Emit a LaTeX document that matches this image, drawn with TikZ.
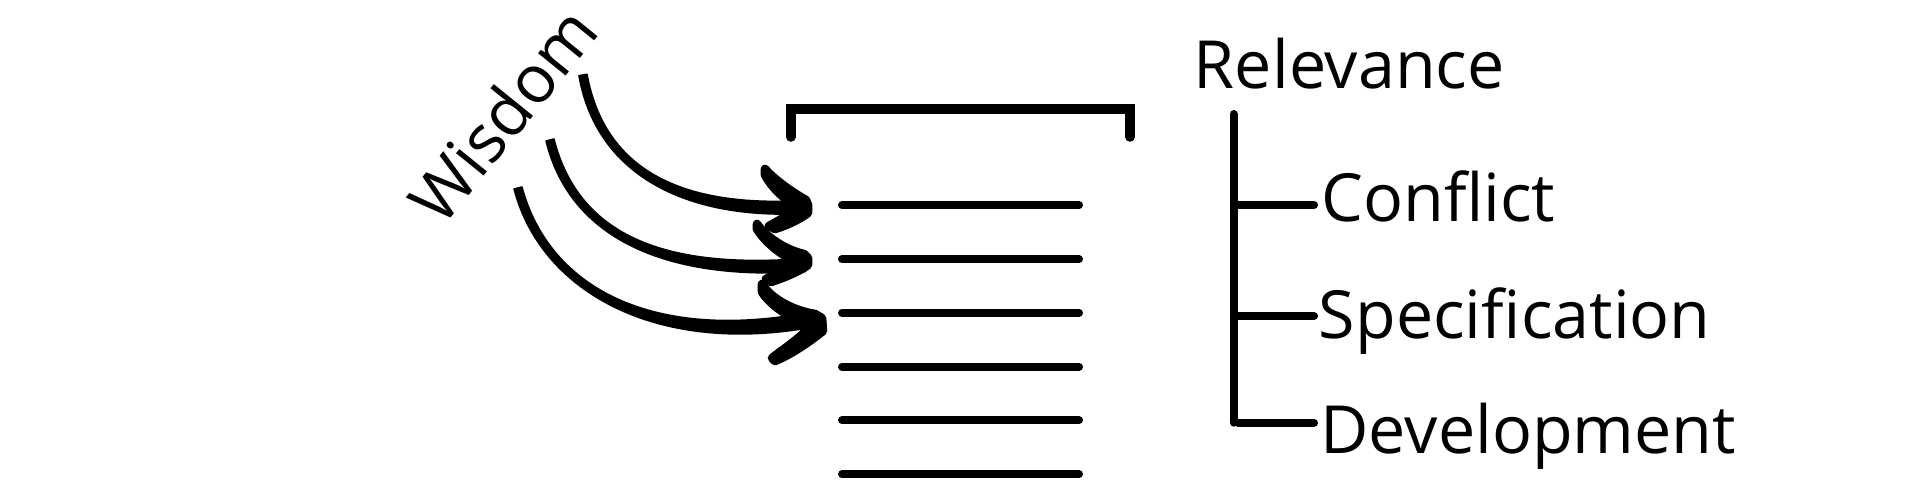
\documentclass[tikz,border=0pt]{standalone}
\usepackage{fontspec}
\setmainfont{Open Sans}
\begin{document}
\begin{tikzpicture}[x=0.5pt,y=-0.5pt,
  lbl/.style={anchor=base west, inner sep=0pt, font=\fontsize{33.2}{40}\selectfont},
  listline/.style={line width=4pt, line cap=round},
  bracketline/.style={line width=4.8pt, line cap=round, line join=miter},
  treeline/.style={line width=4pt, line cap=round},
  shaftink/.style={fill=black, draw=black, line width=0.8pt, line join=round},
  headink/.style={fill=black, draw=black, line width=4.3pt, line join=round},
]
\useasboundingbox (0,0) rectangle (1920,496);

% texts
\node[lbl] (rel) at (1193.5,89) {Relevance};
\node[lbl] (con) at (1321,222) {Conflict};
\node[lbl] (spec) at (1318.5,339) {Specification};
\node[lbl] (dev) at (1320,453) {Development};
\node[lbl, rotate=51] (wis) at (442,229) {Wisdom};

% bracket
\coordinate (brl) at (790.7,137);
\coordinate (brtl) at (790.7,109);
\coordinate (brtr) at (1130,109);
\coordinate (brr) at (1130,137);
\draw[bracketline] (brl) -- (brtl) -- (brtr) -- (brr);

% list lines
\foreach \i/\y in {1/205.3,2/259,3/312.7,4/366.7,5/420.3,6/474.3}{
  \coordinate (la\i) at (842,\y);
  \coordinate (lb\i) at (1079,\y);
  \draw[listline] (la\i) -- (lb\i);
}

% tree
\coordinate (t0) at (1233.5,114);
\coordinate (t3) at (1233.5,422.7);
\draw[treeline] (t0) -- (t3);
\coordinate (b1) at (1238,205);   \coordinate (e1) at (1314,205);
\coordinate (b2) at (1238,316);   \coordinate (e2) at (1314,316);
\coordinate (b3) at (1238,422.7); \coordinate (e3) at (1314,422.7);
\draw[treeline] (b1) -- (e1);
\draw[treeline] (b2) -- (e2);
\draw[treeline] (b3) -- (e3);

% arrow shafts (tapered brush strokes)
\coordinate (s1o) at (587,74.3);   \coordinate (h1o) at (805,200.5);
\coordinate (s1i) at (579,75.7);   \coordinate (h1i) at (805,213.5);
\coordinate (s2o) at (553.9,139);  \coordinate (h2o) at (804.5,258.5);
\coordinate (s2i) at (546.1,141);  \coordinate (h2i) at (805.5,271.5);
\coordinate (s3o) at (521.9,187);  \coordinate (h3o) at (813.6,311.6);
\coordinate (s3i) at (514.1,189);  \coordinate (h3i) at (816.4,326.4);
\filldraw[shaftink] (s1o) .. controls (604.4,169.2) and (680,208) .. (h1o)
  -- (h1i) .. controls (680,220) and (595.6,170.8) .. (s1i) -- cycle;
\filldraw[shaftink] (s2o) .. controls (579.4,238.9) and (669.6,269) .. (h2o)
  -- (h2i) .. controls (670.4,281) and (570.6,241.1) .. (s2i) -- cycle;
\filldraw[shaftink] (s3o) .. controls (549.4,288.8) and (653.7,343.1) .. (h3o)
  -- (h3i) .. controls (656.3,356.9) and (540.6,291.2) .. (s3i) -- cycle;

% arrow heads
\filldraw[headink] (765,169) .. controls (774,179) and (790,191) .. (806,200)
  -- (808,205) -- (808,213) .. controls (800,219) and (788,225) .. (775,229)
  -- (769,226) .. controls (780,220) and (790,214) .. (797,210)
  -- (797,206.7) .. controls (785,200) and (772,188) .. (765,175) -- cycle;
\filldraw[headink] (757,224) .. controls (765,236) and (785,250) .. (804,254)
  -- (808,258) -- (808,265) .. controls (800,271) and (786,277) .. (771,282)
  -- (766,279) .. controls (777,274) and (788,268) .. (795,265)
  -- (795,261.7) .. controls (780,254) and (765,242) .. (757,229) -- cycle;
\filldraw[headink] (762,284) .. controls (770,297) and (790,310) .. (815,314)
  -- (822,318) -- (823,331) .. controls (808,343) and (790,355) .. (775,361)
  -- (772,358) .. controls (785,348) and (800,338) .. (808.3,328.3)
  -- (808.3,325) .. controls (790,318) and (771,306) .. (762,292) -- cycle;
\end{tikzpicture}
\end{document}
